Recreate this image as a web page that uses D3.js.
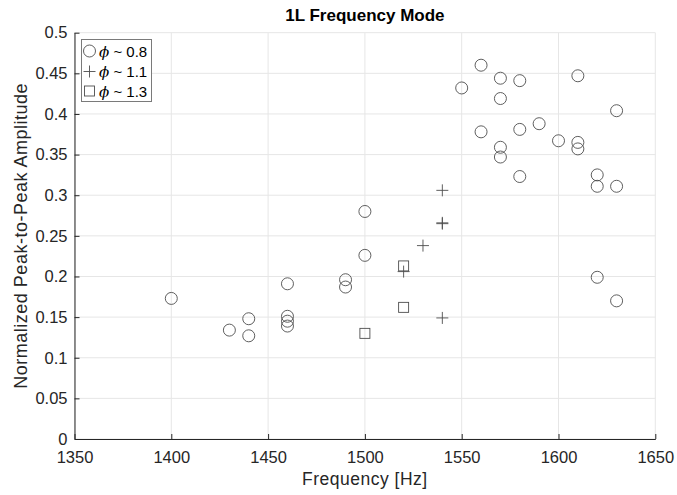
<!DOCTYPE html>
<html>
<head>
<meta charset="utf-8">
<script src="https://cdn.jsdelivr.net/npm/d3@7"></script>
<style>
  body { margin: 0; background: #fff; }
  text { font-family: "Liberation Sans", Arial, sans-serif; }
</style>
</head>
<body>
<div id="chart"></div>
<script>
// values
const circleFreq = [1400, 1430, 1440, 1440, 1460, 1460, 1460, 1460, 1490, 1490, 1500, 1500,
  1550, 1560, 1560, 1570, 1570, 1570, 1570, 1580, 1580, 1580, 1590, 1600,
  1610, 1610, 1610, 1620, 1620, 1620, 1630, 1630, 1630];
const circleAmp = [0.173, 0.134, 0.148, 0.127, 0.191, 0.151, 0.145, 0.139, 0.196, 0.187, 0.280, 0.226,
  0.432, 0.460, 0.378, 0.444, 0.419, 0.359, 0.347, 0.441, 0.381, 0.323, 0.388, 0.367,
  0.447, 0.365, 0.357, 0.325, 0.311, 0.199, 0.404, 0.311, 0.170];
const plusFreq = [1520, 1530, 1540, 1540, 1540, 1540];
const plusAmp = [0.206, 0.238, 0.306, 0.265, 0.266, 0.149];
const squareFreq = [1500, 1520, 1520];
const squareAmp = [0.130, 0.213, 0.162];

const xTicks = [1350, 1400, 1450, 1500, 1550, 1600, 1650];
const yTicks = [0, 0.05, 0.1, 0.15, 0.2, 0.25, 0.3, 0.35, 0.4, 0.45, 0.5];
const legendLabels = ["0.8", "1.1", "1.3"];

const WIDTH = 677, HEIGHT = 495;
const PLOT = { left: 74.5, right: 655.3, top: 32.7, bottom: 439 };
const AXIS_COLOR = "#262626";
const GRID_COLOR = "#e6e6e6";
const MARK_COLOR = "#4d4d4d";

const svg = d3.select("#chart").append("svg")
  .attr("width", WIDTH)
  .attr("height", HEIGHT);

const x = d3.scaleLinear().domain([1350, 1650]).range([PLOT.left, PLOT.right]);
const y = d3.scaleLinear().domain([0, 0.5]).range([PLOT.bottom, PLOT.top]);

// grid
svg.append("g").selectAll("line").data(xTicks).join("line")
  .attr("x1", d => x(d)).attr("x2", d => x(d))
  .attr("y1", PLOT.top).attr("y2", PLOT.bottom)
  .attr("stroke", GRID_COLOR).attr("stroke-width", 1);
svg.append("g").selectAll("line").data(yTicks).join("line")
  .attr("x1", PLOT.left).attr("x2", PLOT.right)
  .attr("y1", d => y(d)).attr("y2", d => y(d))
  .attr("stroke", GRID_COLOR).attr("stroke-width", 1);

// axes (ticks point inward like matlab)
const xAxis = svg.append("g")
  .attr("transform", `translate(0,${PLOT.bottom})`)
  .call(d3.axisBottom(x).tickValues(xTicks).tickSizeInner(-5).tickSizeOuter(0).tickPadding(12).tickFormat(d3.format("d")));
const yAxis = svg.append("g")
  .attr("transform", `translate(${PLOT.left},0)`)
  .call(d3.axisLeft(y).tickValues(yTicks).tickSizeInner(-5).tickSizeOuter(0).tickPadding(7).tickFormat(d3.format("")));

[xAxis, yAxis].forEach(a => {
  a.select(".domain").attr("stroke", AXIS_COLOR).attr("stroke-width", 1);
  a.selectAll(".tick line").attr("stroke", AXIS_COLOR);
  a.selectAll(".tick text")
    .attr("fill", AXIS_COLOR)
    .style("font-size", "16.5px")
    .style("font-family", "'Liberation Sans', Arial, sans-serif");
});

// markers
const marks = svg.append("g")
  .attr("fill", "none")
  .attr("stroke", MARK_COLOR)
  .attr("stroke-width", 0.9);

marks.selectAll("circle").data(d3.range(circleFreq.length)).join("circle")
  .attr("cx", i => x(circleFreq[i]))
  .attr("cy", i => y(circleAmp[i]))
  .attr("r", 6);

marks.selectAll("path.plus").data(d3.range(plusFreq.length)).join("path")
  .attr("class", "plus")
  .attr("d", i => {
    const cx = x(plusFreq[i]), cy = y(plusAmp[i]);
    return `M${cx - 6},${cy}H${cx + 6}M${cx},${cy - 6}V${cy + 6}`;
  });

marks.selectAll("rect").data(d3.range(squareFreq.length)).join("rect")
  .attr("x", i => x(squareFreq[i]) - 5)
  .attr("y", i => y(squareAmp[i]) - 5)
  .attr("width", 10)
  .attr("height", 10);

// title and labels
svg.append("text")
  .attr("x", (PLOT.left + PLOT.right) / 2)
  .attr("y", 21)
  .attr("text-anchor", "middle")
  .style("font-size", "17px")
  .style("font-weight", "bold")
  .attr("fill", "#000")
  .text("1L Frequency Mode");

svg.append("text")
  .attr("x", (PLOT.left + PLOT.right) / 2)
  .attr("y", 485)
  .attr("text-anchor", "middle")
  .style("font-size", "17.5px")
  .style("letter-spacing", "0.5px")
  .attr("fill", AXIS_COLOR)
  .text("Frequency [Hz]");

svg.append("text")
  .attr("transform", `translate(27,${(PLOT.top + PLOT.bottom) / 2}) rotate(-90)`)
  .attr("text-anchor", "middle")
  .style("font-size", "18px")
  .style("letter-spacing", "0.5px")
  .attr("fill", AXIS_COLOR)
  .text("Normalized Peak-to-Peak Amplitude");

// legend
const legend = svg.append("g");
legend.append("rect")
  .attr("x", 81.5).attr("y", 39.5)
  .attr("width", 70).attr("height", 62)
  .attr("fill", "#fff")
  .attr("stroke", "#7a7a7a")
  .attr("stroke-width", 1);

const legendY = [51, 71.5, 91];
legendLabels.forEach((lab, i) => {
  const cy = legendY[i], cx = 89.5;
  if (i === 0) {
    legend.append("circle").attr("cx", cx).attr("cy", cy).attr("r", 6)
      .attr("fill", "none").attr("stroke", MARK_COLOR).attr("stroke-width", 0.9);
  } else if (i === 1) {
    legend.append("path").attr("d", `M${cx - 6},${cy}H${cx + 6}M${cx},${cy - 6}V${cy + 6}`)
      .attr("stroke", MARK_COLOR).attr("stroke-width", 0.9);
  } else {
    legend.append("rect").attr("x", cx - 5).attr("y", cy - 5).attr("width", 10).attr("height", 10)
      .attr("fill", "none").attr("stroke", MARK_COLOR).attr("stroke-width", 0.9);
  }
  const t = legend.append("text")
    .attr("x", 99).attr("y", cy + 5.5)
    .style("font-size", "15px")
    .attr("fill", "#000");
  t.append("tspan").style("font-style", "italic").style("font-family", "'DejaVu Serif', serif").text("\u03d5");
  t.append("tspan").text(" ~ " + lab);
});
</script>
</body>
</html>
